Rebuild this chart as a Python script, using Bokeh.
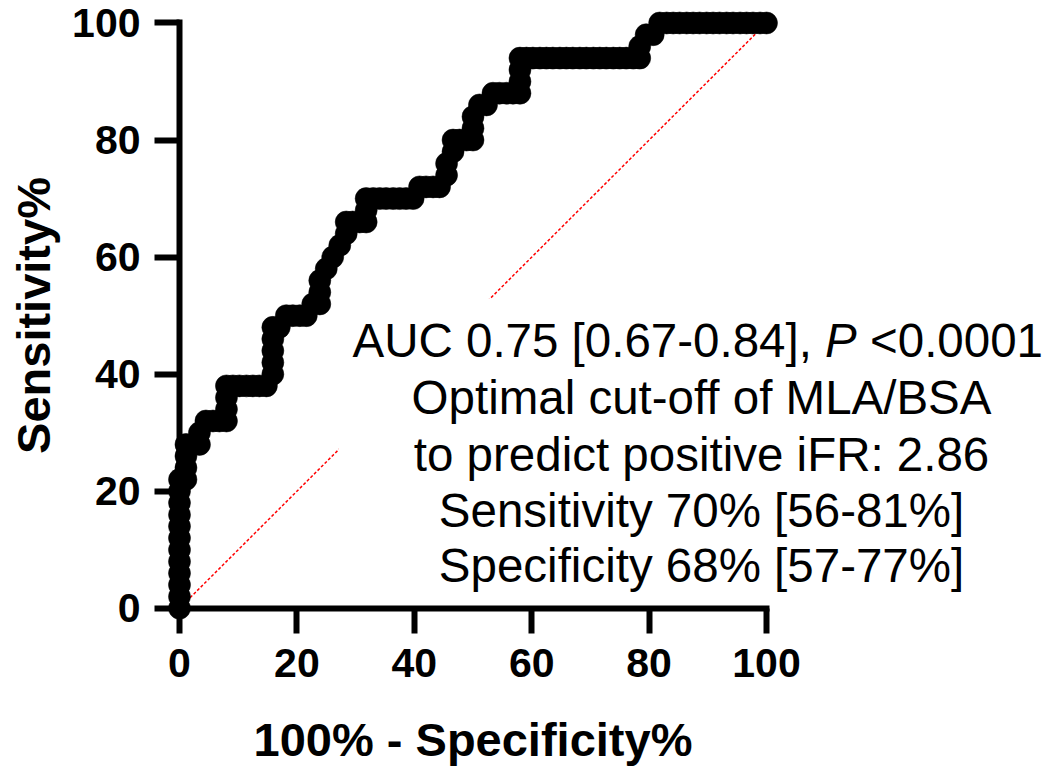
from bokeh.plotting import figure
from bokeh.models import LinearAxis, FixedTicker, Range1d, BoxAnnotation, Label
from bokeh.embed import file_html
from bokeh.resources import INLINE

# ROC curve points (100% - Specificity%, Sensitivity%)
fpr = [0, 0, 0, 0, 0, 0, 0, 0, 0, 0, 0, 0,
       1.1, 1.1, 1.1, 1.1, 2.3, 3.4, 3.4, 4.5, 5.7, 6.8, 8.0, 8.0, 8.0, 8.0,
       9.1, 10.2, 11.4, 12.5, 13.6, 14.8, 15.9, 15.9, 15.9, 15.9, 15.9, 17.0,
       18.2, 19.3, 20.5, 21.6, 22.7, 23.9, 23.9, 23.9, 25.0, 26.1, 27.3, 28.4, 28.4,
       29.5, 30.7, 31.8, 31.8, 31.8, 33.0, 34.1, 35.2, 36.4, 37.5, 38.6, 39.8,
       40.9, 42.0, 43.2, 44.3, 45.5, 45.5, 46.6, 46.6, 47.7, 48.9, 50.0, 50.0, 50.0,
       51.1, 52.3, 53.4, 54.5, 55.7, 56.8, 58.0, 58.0, 58.0, 58.0,
       59.1, 60.2, 61.4, 62.5, 63.6, 64.8, 65.9, 67.0, 68.2, 69.3, 70.5, 71.6, 72.7, 73.9, 75.0, 76.1, 77.3, 78.4, 78.4,
       79.5, 80.7, 81.8, 83.0, 84.1, 85.2, 86.4, 87.5, 88.6, 89.8, 90.9, 92.0, 93.2, 94.3, 95.5, 96.6, 97.7, 98.9, 100]
tpr = [0, 2, 4, 6, 8, 10, 12, 14, 16, 18, 20, 22,
       22, 24, 26, 28, 28, 28, 30, 32, 32, 32, 32, 34, 36, 38,
       38, 38, 38, 38, 38, 38, 40, 42, 44, 46, 48, 48,
       50, 50, 50, 50, 52, 52, 54, 56, 58, 60, 62, 64, 66,
       66, 66, 66, 68, 70, 70, 70, 70, 70, 70, 70, 70,
       72, 72, 72, 72, 74, 76, 78, 80, 80, 80, 80, 82, 84,
       86, 86, 88, 88, 88, 88, 88, 90, 92, 94,
       94, 94, 94, 94, 94, 94, 94, 94, 94, 94, 94, 94, 94, 94, 94, 94, 94, 94, 96,
       98, 98, 100, 100, 100, 100, 100, 100, 100, 100, 100, 100, 100, 100, 100, 100, 100, 100, 100]

diag_x = [0, 100]
diag_y = [0, 100]
ticks = [0, 20, 40, 60, 80, 100]
x_title = "100% - Specificity%"
y_title = "Sensitivity%"
auc_text = "AUC 0.75 [0.67-0.84],"
p_text = "P"
pval_text = "<0.0001"
other_lines = ["Optimal cut-off of MLA/BSA",
               "to predict positive iFR: 2.86",
               "Sensitivity 70% [56-81%]",
               "Specificity 68% [57-77%]"]

W, H = 1048, 770
p = figure(width=W, height=H, x_axis_type=None, y_axis_type=None,
           toolbar_location=None, output_backend="svg",
           x_range=Range1d(-30.494, 148.041), y_range=Range1d(-27.712, 103.844),
           min_border=0, outline_line_color=None,
           background_fill_color="white", border_fill_color="white")

FONT = "Liberation Sans"

def style_axis(ax, label_standoff, title_standoff):
    ax.axis_line_width = 6
    ax.axis_line_color = "black"
    ax.axis_line_cap = "square"
    ax.major_tick_line_width = 6
    ax.major_tick_line_color = "black"
    ax.major_tick_out = 25
    ax.major_tick_in = 0
    ax.minor_tick_out = 0
    ax.minor_tick_in = 0
    ax.major_label_text_font = FONT
    ax.major_label_text_font_style = "bold"
    ax.major_label_text_font_size = "41px"
    ax.major_label_text_color = "black"
    ax.major_label_standoff = label_standoff
    ax.axis_label_text_font = FONT
    ax.axis_label_text_font_style = "bold"
    ax.axis_label_text_font_size = "47px"
    ax.axis_label_text_color = "black"
    ax.axis_label_standoff = title_standoff

xaxis = LinearAxis(fixed_location=0, bounds=(0, 100),
                   ticker=FixedTicker(ticks=ticks, minor_ticks=[]),
                   axis_label=x_title)
style_axis(xaxis, 16, 32)
yaxis = LinearAxis(fixed_location=0, bounds=(0, 100),
                   ticker=FixedTicker(ticks=ticks, minor_ticks=[]),
                   axis_label=y_title)
style_axis(yaxis, 14, 9)
p.add_layout(xaxis, "below")
p.add_layout(yaxis, "left")

# reference diagonal
p.line(diag_x, diag_y, line_color="red", line_dash="3 2", line_width=1.5)

# ROC points
p.scatter(fpr, tpr, marker="circle", size=22, fill_color="black",
          line_color="black", line_width=0.5)

# white text box (hides the diagonal behind the text)
p.add_layout(BoxAnnotation(left=27.1, right=148, bottom=2.5, top=52.9,
                           fill_color="white", fill_alpha=1.0,
                           line_color=None, level="annotation"))

FS = "47.5px"
y1 = 45.75
p.add_layout(Label(x=29.47, y=y1, text=auc_text, text_font=FONT,
                   text_font_size=FS, text_align="left",
                   text_baseline="middle", text_color="black"))
p.add_layout(Label(x=109.98, y=y1, text=p_text, text_font=FONT,
                   text_font_style="italic", text_font_size=FS,
                   text_align="left", text_baseline="middle",
                   text_color="black"))
p.add_layout(Label(x=117.63, y=y1, text=pval_text, text_font=FONT,
                   text_font_size=FS, text_align="left",
                   text_baseline="middle", text_color="black"))
line_y = [36.02, 26.29, 16.72, 7.32]
for txt, yy in zip(other_lines, line_y):
    p.add_layout(Label(x=88.93, y=yy, text=txt, text_font=FONT,
                       text_font_size=FS, text_align="center",
                       text_baseline="middle", text_color="black"))

open("out.html", "w").write(file_html(p, INLINE))
